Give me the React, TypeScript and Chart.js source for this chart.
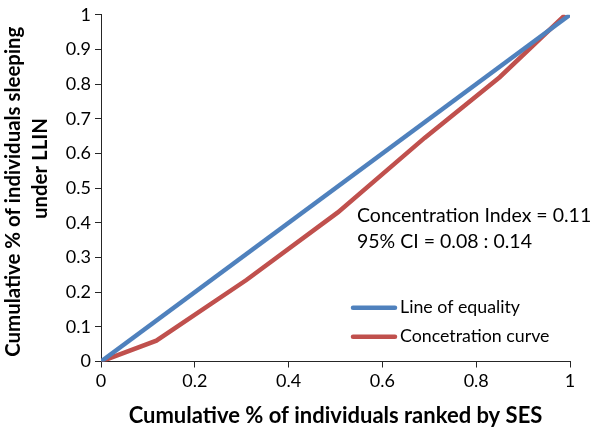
import React, { useEffect, useRef } from 'react';
import { Chart, registerables } from 'chart.js';

Chart.register(...registerables);

// ---- data ----
const equalityX = [0, 1];
const equalityY = [0, 1];
const curveX = [0, 0.118, 0.31, 0.505, 0.69, 0.85, 0.99];
const curveY = [0, 0.06, 0.235, 0.43, 0.645, 0.82, 1.0];
const seriesLabels = ['Line of equality', 'Concetration curve'];
const seriesColors = ['#4F81BD', '#C0504D'];
const annotationLines = ['Concentration Index = 0.11', '95% CI = 0.08 : 0.14'];
const xTitle = 'Cumulative % of individuals ranked by SES';
const yTitle = ['Cumulative % of individuals sleeping', 'under LLIN'];
const xTickStep = 0.2;
const yTickStep = 0.1;

const FONT = 'Lato, "Open Sans", sans-serif';
const AXIS_COLOR = '#262626';

const overlayPlugin = {
  id: 'overlay',
  afterDraw(chart: any) {
    const ctx = chart.ctx as CanvasRenderingContext2D;
    ctx.save();
    ctx.fillStyle = '#000';
    ctx.textBaseline = 'middle';
    ctx.textAlign = 'left';
    // annotation
    ctx.font = `19.5px ${FONT}`;
    annotationLines.forEach((t, i) => {
      ctx.fillText(t, 357, 216 + i * 25.7);
    });
    // legend
    ctx.font = `17.8px ${FONT}`;
    chart.data.datasets.forEach((ds: any, i: number) => {
      const y = 307.7 + i * 29;
      ctx.strokeStyle = ds.borderColor;
      ctx.lineWidth = 4.5;
      ctx.lineCap = 'round';
      ctx.beginPath();
      ctx.moveTo(353, y);
      ctx.lineTo(395, y);
      ctx.stroke();
      ctx.fillText(ds.label, 400, y);
    });
    // y axis title (two lines, rotated)
    ctx.font = `bold 20.4px ${FONT}`;
    ctx.textAlign = 'center';
    const centers = [
      [13.8, 191.7],
      [40.8, 168.5],
    ];
    yTitle.forEach((t, i) => {
      ctx.save();
      ctx.translate(centers[i][0], centers[i][1]);
      ctx.rotate(-Math.PI / 2);
      ctx.fillText(t, 0, 0);
      ctx.restore();
    });
    ctx.restore();
  },
};

const fmt = (v: any) => String(Math.round(Number(v) * 10) / 10);

export default function App() {
  const ref = useRef<HTMLCanvasElement | null>(null);
  useEffect(() => {
    if (!ref.current) return;
    const chart = new Chart(ref.current, {
      type: 'line',
      data: {
        datasets: [
          {
            label: seriesLabels[0],
            data: equalityX.map((x, i) => ({ x, y: equalityY[i] })),
            borderColor: seriesColors[0],
            backgroundColor: seriesColors[0],
            borderWidth: 4.5,
            pointRadius: 0,
            tension: 0,
          },
          {
            label: seriesLabels[1],
            data: curveX.map((x, i) => ({ x, y: curveY[i] })),
            borderColor: seriesColors[1],
            backgroundColor: seriesColors[1],
            borderWidth: 4.5,
            pointRadius: 0,
            tension: 0,
          },
        ],
      },
      options: {
        responsive: false,
        animation: false,
        layout: { padding: { left: 0, right: 28, top: 12, bottom: 0 } },
        plugins: { legend: { display: false }, tooltip: { enabled: false } },
        scales: {
          x: {
            type: 'linear',
            min: 0,
            max: 1,
            afterFit: (s: any) => {
              s.height = 65.5;
            },
            ticks: {
              stepSize: xTickStep,
              color: '#000',
              font: { family: FONT, size: 18 },
              padding: 3,
              maxRotation: 0,
              callback: fmt,
            },
            grid: {
              drawOnChartArea: false,
              drawTicks: true,
              tickLength: 6,
              color: AXIS_COLOR,
            },
            border: { display: true, color: AXIS_COLOR, width: 1 },
            title: {
              display: true,
              text: xTitle,
              color: '#000',
              font: { family: FONT, size: 22, weight: 'bold', lineHeight: 1 },
              padding: { top: 0, bottom: 0 },
            },
          },
          y: {
            type: 'linear',
            min: 0,
            max: 1,
            afterFit: (s: any) => {
              s.width = 101;
            },
            ticks: {
              stepSize: yTickStep,
              color: '#000',
              font: { family: FONT, size: 18 },
              padding: 4,
              callback: fmt,
            },
            grid: {
              drawOnChartArea: false,
              drawTicks: true,
              tickLength: 6,
              color: AXIS_COLOR,
            },
            border: { display: true, color: AXIS_COLOR, width: 1 },
            title: { display: false },
          },
        },
      },
      plugins: [overlayPlugin],
    } as any);
    return () => chart.destroy();
  }, []);
  return (
    <div style={{ position: 'absolute', left: 0, top: 0, width: 598, height: 427, background: '#fff' }}>
      <canvas ref={ref} width={598} height={427} style={{ display: 'block' }} />
    </div>
  );
}
